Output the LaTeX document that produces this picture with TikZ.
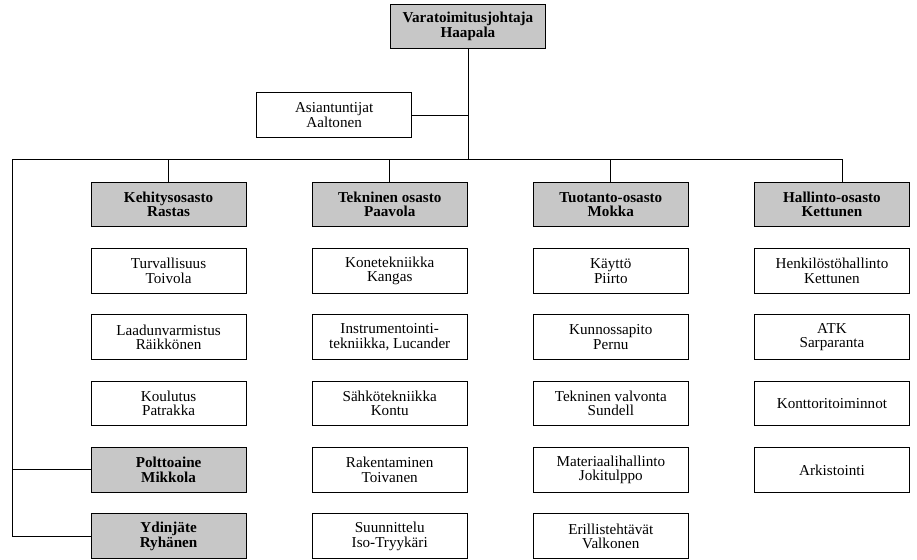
\documentclass[tikz,border=0pt]{standalone}
\usepackage{fontspec}
\setmainfont{Liberation Serif}

\begin{document}
\begin{tikzpicture}[semithick, node distance=1.755cm,
                    font=\fontsize{11.4}{11}\selectfont]
\tikzstyle{unit}=[shape=rectangle, draw=black, line width=0.75pt, align=center,
                    inner sep=1pt, minimum width=4.1cm, minimum height=1.18cm]
\tikzstyle{head}=[unit, fill=black!22, font=\fontsize{11.4}{11}\selectfont\bfseries]
  \useasboundingbox (0,0) rectangle (24.26,-14.79);
  % johto
  \node[head] (VJ) at (12.38,-0.70) {Varatoimitusjohtaja\\Haapala};
  \node[unit] (AS) at (8.84,-3.04) {Asiantuntijat\\Aaltonen};
  % osastot
  \node[head] (KE) at (4.46,-5.41) {Kehitysosasto\\Rastas};
  \node[head] (TE) [right of=KE, node distance=5.85cm] {Tekninen osasto\\Paavola};
  \node[head] (TU) [right of=TE, node distance=5.85cm] {Tuotanto-osasto\\Mokka};
  \node[head] (HA) [right of=TU, node distance=5.85cm] {Hallinto-osasto\\Kettunen};
  % Kehitysosasto
  \node[unit] (KE1) [below of=KE] {Turvallisuus\\Toivola};
  \node[unit] (KE2) [below of=KE1] {Laadunvarmistus\\Räikkönen};
  \node[unit] (KE3) [below of=KE2] {Koulutus\\Patrakka};
  \node[head] (KE4) [below of=KE3] {Polttoaine\\Mikkola};
  \node[head] (KE5) [below of=KE4] {Ydinjäte\\Ryhänen};
  % Tekninen osasto
  \node[unit] (TE1) [below of=TE] {Konetekniikka\\Kangas};
  \node[unit] (TE2) [below of=TE1] {Instrumentointi-\\tekniikka, Lucander};
  \node[unit] (TE3) [below of=TE2] {Sähkötekniikka\\Kontu};
  \node[unit] (TE4) [below of=TE3] {Rakentaminen\\Toivanen};
  \node[unit] (TE5) [below of=TE4] {Suunnittelu\\Iso-Tryykäri};
  % Tuotanto-osasto
  \node[unit] (TU1) [below of=TU] {Käyttö\\Piirto};
  \node[unit] (TU2) [below of=TU1] {Kunnossapito\\Pernu};
  \node[unit] (TU3) [below of=TU2] {Tekninen valvonta\\Sundell};
  \node[unit] (TU4) [below of=TU3] {Materiaalihallinto\\Jokitulppo};
  \node[unit] (TU5) [below of=TU4] {Erillistehtävät\\Valkonen};
  % Hallinto-osasto
  \node[unit] (HA1) [below of=HA] {Henkilöstöhallinto\\Kettunen};
  \node[unit] (HA2) [below of=HA1] {ATK\\Sarparanta};
  \node[unit] (HA3) [below of=HA2] {Konttoritoiminnot};
  \node[unit] (HA4) [below of=HA3] {Arkistointi};
  % linjat
  \coordinate (L) at (0.34,-4.21);
  \coordinate (R) at (22.28,-4.21);
  \draw (VJ.south) -- (VJ.south |- L);
  \draw (AS.east) -- (AS.east -| VJ.south);
  \draw (L) -- (R);
  \draw (KE.north) -- (KE.north |- L);
  \draw (TE.north) -- (TE.north |- L);
  \draw (TU.north) -- (TU.north |- L);
  \draw (R) -- (R |- HA.north);
  \draw (L) |- (KE5.west);
  \draw (L |- KE4) -- (KE4.west);
\end{tikzpicture}
\end{document}
